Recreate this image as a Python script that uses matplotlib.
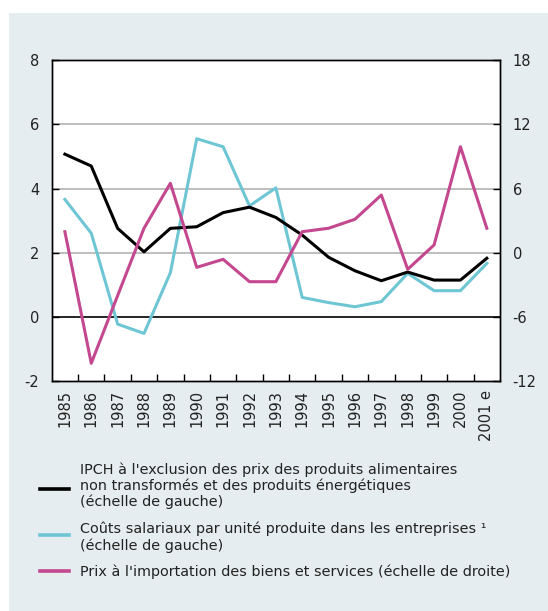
import numpy as np
import matplotlib.pyplot as plt
from matplotlib.patches import Rectangle
from matplotlib.lines import Line2D

plt.rcParams['font.family'] = ['DejaVu Sans']

# données
annees = ['1985', '1986', '1987', '1988', '1989', '1990', '1991', '1992', '1993',
          '1994', '1995', '1996', '1997', '1998', '1999', '2000', '2001 e']
ipch_hors = [5.07, 4.70, 2.76, 2.03, 2.76, 2.81, 3.25, 3.42, 3.10,
             2.55, 1.86, 1.44, 1.13, 1.40, 1.15, 1.15, 1.83]
couts_salariaux = [3.66, 2.61, -0.22, -0.51, 1.38, 5.55, 5.30, 3.46, 4.02,
                   0.61, 0.45, 0.32, 0.48, 1.36, 0.82, 0.82, 1.67]
prix_import = [1.97, -10.32, -4.0, 2.29, 6.49, -1.36, -0.61, -2.70, -2.70,
               1.97, 2.29, 3.13, 5.39, -1.54, 0.73, 9.9, 2.29]

legende = [["IPCH à l'exclusion des prix des produits alimentaires",
            "non transformés et des produits énergétiques",
            "(échelle de gauche)"],
           ["Coûts salariaux par unité produite dans les entreprises ¹",
            "(échelle de gauche)"],
           ["Prix à l'importation des biens et services (échelle de droite)"]]

c_noir = '#000000'
c_cyan = '#6ec6d4'
c_mag = '#c4488f'
fond = '#e5edf0'
c_texte = '#222222'
FS = 10.5

W, H = 548, 611
fig = plt.figure(figsize=(W / 100, H / 100), dpi=100, facecolor='white')
fig.patches.append(Rectangle((9 / W, 0), 1, 1 - 13 / H, transform=fig.transFigure,
                             facecolor=fond, edgecolor='none', zorder=-10))

ax = fig.add_axes([51.7 / W, 1 - 381.3 / H, (500 - 51.7) / W, (381.3 - 60) / H])
ax.set_facecolor('white')
x = np.arange(len(annees))

ax.set_xlim(-0.5, len(annees) - 0.5)
ax.set_ylim(-2, 8)
ax.set_yticks([-2, 0, 2, 4, 6, 8])
ax.set_yticklabels(['-2', '0', '2', '4', '6', '8'])
for v in [2, 4, 6]:
    ax.axhline(v, color='#b3b3b3', lw=1.2, zorder=1)
ax.axhline(0, color='black', lw=1.2, zorder=1)

l1, = ax.plot(x, ipch_hors, color=c_noir, lw=2.2, zorder=4)
l2, = ax.plot(x, couts_salariaux, color=c_cyan, lw=2.2, zorder=3)

ax2 = ax.twinx()
ax2.set_ylim(-12, 18)
ax2.set_yticks([-12, -6, 0, 6, 12, 18])
ax2.set_yticklabels(['-12', '-6', '0', '6', '12', '18'])
l3, = ax2.plot(x, prix_import, color=c_mag, lw=2.2, zorder=3)

ax.set_xticks(x)
ax.set_xticklabels(annees, rotation=90, va='top', ha='center', fontsize=FS)
ax.set_xticks(np.arange(0.5, len(annees) - 1, 1), minor=True)
ax.tick_params(axis='x', which='major', length=0, pad=6, labelcolor=c_texte)
ax.tick_params(axis='x', which='minor', direction='in', length=5, width=1, top=False)
ax.tick_params(axis='y', direction='in', length=5, width=1, labelsize=FS, pad=9,
               labelcolor=c_texte)
ax2.tick_params(axis='y', direction='in', length=5, width=1, labelsize=FS, pad=9,
                labelcolor=c_texte)

for a in (ax, ax2):
    for s in a.spines.values():
        s.set_linewidth(1.0)
        s.set_color('black')

# légende dessinée à la main (interligne serré comme l'original)
centres_lignes = [[468.5, 484.5, 501], [528, 544.5], [570.5]]
centres_traits = [489, 535, 570.5]
for lignes, ys, yh, ln in zip(legende, centres_lignes, centres_traits, [l1, l2, l3]):
    fig.add_artist(Line2D([40 / W, 69 / W], [1 - yh / H, 1 - yh / H],
                          transform=fig.transFigure, color=ln.get_color(), lw=2.6))
    for txt, yc in zip(lignes, ys):
        fig.text(80.5 / W, 1 - (yc + 5.2) / H, txt, fontsize=10.4, va='baseline',
                 ha='left', color=c_texte)

fig.savefig('out.png', dpi=100, facecolor='white')
